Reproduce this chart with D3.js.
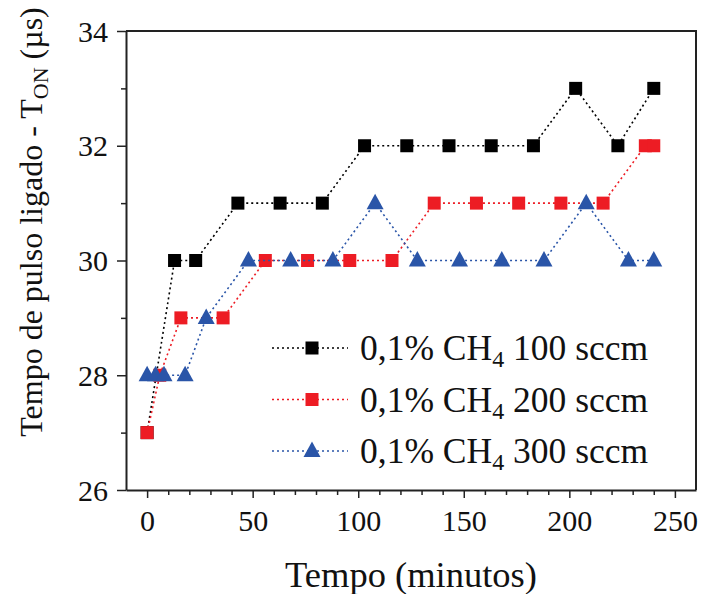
<!DOCTYPE html>
<html>
<head>
<meta charset="utf-8">
<script src="https://cdn.jsdelivr.net/npm/d3@7"></script>
<style>
  body { margin: 0; background: #fff; }
  svg { display: block; }
  text { font-family: "Liberation Serif", "Times New Roman", serif; fill: #111; }
</style>
</head>
<body>
<div id="viz"></div>
<script>
// black series: 100 sccm
var tBlack = [0, 13, 23, 43, 63, 83, 103, 123, 143, 163, 183, 203, 223, 240];
var vBlack = [27, 30, 30, 31, 31, 31, 32, 32, 32, 32, 32, 33, 32, 33];
// red series: 200 sccm
var tRed = [0, 6, 16, 36, 56, 76, 96, 116, 136, 156, 176, 196, 216, 236, 240];
var vRed = [27, 28, 29, 29, 30, 30, 30, 30, 31, 31, 31, 31, 31, 32, 32];
// blue series: 300 sccm
var tBlue = [0, 4, 8, 18, 28, 48, 68, 88, 108, 128, 148, 168, 188, 208, 228, 240];
var vBlue = [28, 28, 28, 28, 29, 30, 30, 30, 31, 30, 30, 30, 30, 31, 30, 30];

var xTicks = [0, 50, 100, 150, 200, 250];
var yTicks = [26, 28, 30, 32, 34];
var legendFlow = ["100", "200", "300"];

var W = 702, H = 594;
var pL = 126, pR = 696, pT = 31, pB = 490;

var x = d3.scaleLinear().domain([-10, 260]).range([pL, pR]);
var y = d3.scaleLinear().domain([26, 34]).range([pB, pT]);

var svg = d3.select("#viz").append("svg")
  .attr("width", W)
  .attr("height", H);

var series = [
  {t: tBlack, v: vBlack, color: "#000000", shape: "square", flow: legendFlow[0]},
  {t: tRed, v: vRed, color: "#ed1c24", shape: "square", flow: legendFlow[1]},
  {t: tBlue, v: vBlue, color: "#2a55a8", shape: "triangle", flow: legendFlow[2]}
];

// frame (top & right)
svg.append("path")
  .attr("d", "M" + pL + "," + pT + "H" + pR + "V" + pB)
  .attr("fill", "none").attr("stroke", "#222").attr("stroke-width", 2);

// minor ticks
var xMinor = d3.range(10, 260, 10).filter(function(d) { return d % 50 != 0; });
var yMinor = [27, 29, 31, 33];

var xAxis = svg.append("g").attr("transform", "translate(0," + pB + ")")
  .call(d3.axisBottom(x).tickValues(xTicks).tickSize(8).tickPadding(12).tickSizeOuter(0));
svg.append("g").attr("transform", "translate(0," + pB + ")")
  .call(d3.axisBottom(x).tickValues(xMinor).tickSize(5).tickFormat("").tickSizeOuter(0))
  .select(".domain").remove();

var yAxis = svg.append("g").attr("transform", "translate(" + pL + ",0)")
  .call(d3.axisLeft(y).tickValues(yTicks).tickSize(9).tickPadding(9).tickSizeOuter(0));
svg.append("g").attr("transform", "translate(" + pL + ",0)")
  .call(d3.axisLeft(y).tickValues(yMinor).tickSize(5).tickFormat("").tickSizeOuter(0))
  .select(".domain").remove();

svg.selectAll(".domain").attr("stroke", "#222").attr("stroke-width", 2);
svg.selectAll(".tick line").attr("stroke", "#222").attr("stroke-width", 1.5);
svg.selectAll(".tick text")
  .attr("font-family", "Liberation Serif, Times New Roman, serif")
  .attr("font-size", 30).attr("fill", "#111");
yAxis.selectAll(".tick text").attr("dy", "0.34em");

// lines
var line = d3.line().x(function(d) { return x(d[0]); }).y(function(d) { return y(d[1]); });

function marker(g, shape, color, cx, cy) {
  if (shape == "square") {
    g.append("rect")
      .attr("x", cx - 6.5).attr("y", cy - 6.5)
      .attr("width", 13).attr("height", 13)
      .attr("fill", color);
  } else {
    g.append("path")
      .attr("d", "M" + cx + "," + (cy - 9.5) + "L" + (cx + 8.5) + "," + (cy + 6) + "L" + (cx - 8.5) + "," + (cy + 6) + "Z")
      .attr("fill", color);
  }
}

series.forEach(function(s) {
  var pts = s.t.map(function(t, i) { return [t, s.v[i]]; });
  svg.append("path")
    .attr("d", line(pts))
    .attr("fill", "none")
    .attr("stroke", s.color)
    .attr("stroke-width", 1.6)
    .attr("stroke-dasharray", "2,3");
  var g = svg.append("g");
  pts.forEach(function(p) {
    marker(g, s.shape, s.color, x(p[0]), y(p[1]));
  });
});

// legend
series.forEach(function(s, i) {
  var ly = 348 + i * 51.5;
  svg.append("line")
    .attr("x1", 272).attr("x2", 348).attr("y1", ly).attr("y2", ly)
    .attr("stroke", s.color).attr("stroke-width", 1.6)
    .attr("stroke-dasharray", "2,3");
  marker(svg, s.shape, s.color, 312, ly);
  var tx = svg.append("text")
    .attr("x", 360).attr("y", ly + 12)
    .attr("font-size", 35.5);
  tx.append("tspan").text("0,1% CH");
  tx.append("tspan").attr("font-size", 24).attr("dy", 7).text("4");
  tx.append("tspan").attr("dy", -7).text(" " + s.flow + " sccm");
});

// axis titles
svg.append("text")
  .attr("x", (pL + pR) / 2 + 0).attr("y", 587)
  .attr("text-anchor", "middle")
  .attr("font-size", 36.5)
  .text("Tempo (minutos)");

var yt = svg.append("text")
  .attr("transform", "translate(42,222) rotate(-90)")
  .attr("text-anchor", "middle")
  .attr("font-size", 32);
yt.append("tspan").text("Tempo de pulso ligado - T");
yt.append("tspan").attr("font-size", 22).attr("dy", 6).text("ON");
yt.append("tspan").attr("dy", -6).text(" (\u00b5s)");
</script>
</body>
</html>
